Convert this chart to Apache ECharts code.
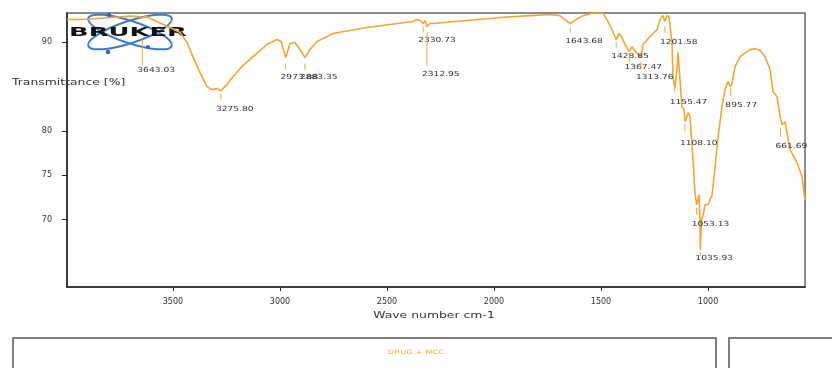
<!DOCTYPE html>
<html>
<head>
<meta charset="utf-8">
<script src="https://cdn.jsdelivr.net/npm/echarts@6/dist/echarts.min.js"></script>
<style>
  html, body { margin: 0; padding: 0; background: #fff; }
  #chart { width: 832px; height: 368px; }
</style>
</head>
<body>
<div id="chart"></div>
<script>
// IR spectrum, wave number (cm-1) against transmittance (%)
const wavenumber = [
  3995, 3900, 3841, 3760, 3701, 3660, 3645, 3630, 3622, 3575, 3514, 3467, 3434, 3407, 3374,
  3341, 3318, 3294, 3276, 3248, 3220, 3173, 3126, 3061, 3014, 2995, 2973, 2953, 2930, 2907,
  2883, 2860, 2827, 2752, 2673, 2593, 2486, 2379, 2360, 2346, 2331, 2322, 2313, 2299, 2285,
  2126, 1972, 1832, 1738, 1692, 1668, 1645, 1617, 1584, 1537, 1491, 1472, 1449, 1435, 1428,
  1416, 1402, 1388, 1368, 1355, 1336, 1314, 1304, 1271, 1238, 1220, 1210, 1202, 1192, 1182,
  1168, 1164, 1155, 1145, 1140, 1131, 1122, 1112, 1107, 1093, 1084, 1070, 1061, 1053, 1042,
  1037, 1036, 1030, 1023, 1014, 1000, 981, 967, 953, 935, 921, 907, 896, 888, 874,
  850, 804, 780, 757, 734, 710, 696, 678, 662, 654, 640, 617, 584, 561, 547
];
const transmittance = [
  92.56, 92.6, 92.7, 92.85, 92.95, 92.9, 92.75, 92.95, 92.9, 92.34, 91.66, 91.1, 89.97, 88.38, 86.6,
  85.0, 84.66, 84.77, 84.54, 85.22, 86.12, 87.37, 88.38, 89.74, 90.31, 90.08, 88.27, 89.85, 89.97, 89.18,
  88.27, 89.18, 90.08, 90.98, 91.32, 91.66, 92.0, 92.34, 92.56, 92.45, 92.11, 92.45, 91.77, 92.11, 92.11,
  92.45, 92.79, 93.0, 93.13, 93.0, 92.56, 92.11, 92.56, 93.0, 93.3, 93.3, 92.56, 91.44, 90.64, 90.31,
  90.98, 90.53, 89.74, 88.95, 89.51, 88.84, 88.27, 89.74, 90.64, 91.44, 92.79, 93.0, 92.34, 93.0, 92.9,
  89.74, 86.12, 84.88, 86.92, 88.84, 85.78, 82.73, 82.4, 81.04, 82.06, 81.6, 76.75, 73.02, 71.67, 72.79,
  69.4, 66.58, 70.0, 70.5, 71.67, 71.67, 72.79, 75.96, 79.34, 82.73, 84.66, 85.56, 85.0, 85.33, 87.25,
  88.38, 89.17, 89.29, 89.06, 88.38, 86.92, 84.43, 83.87, 81.5, 80.7, 81.04, 77.88, 76.41, 74.83, 72.2
];

// peak picks: position, marker start/end and label level (transmittance units)
const peakWn = [3643.03, 3275.80, 2973.88, 2883.35, 2330.73, 2312.95, 1643.68, 1428.85, 1367.47,
  1313.76, 1201.58, 1155.47, 1108.10, 1053.13, 1035.93, 895.77, 661.69];
const peakMarkTop = [90.31, 84.2, 87.59, 87.59, 91.77, 91.1, 91.66, 89.97, 88.61,
  87.82, 91.77, 85.22, 80.82, 71.33, 66.35, 84.88, 80.36];
const peakMarkBottom = [87.37, 83.53, 86.92, 86.92, 91.1, 87.37, 91.1, 89.4, 87.82,
  86.92, 91.1, 84.43, 79.91, 70.53, 65.9, 83.98, 79.34];
const peakLabelAt = [86.8, 82.4, 86.01, 86.01, 90.25, 86.35, 90.08, 88.38, 87.14,
  86.01, 89.97, 83.19, 78.67, 69.51, 65.67, 82.85, 78.33];

const xTicks = [3500, 3000, 2500, 2000, 1500, 1000];
const yTicks = [70, 75, 80, 90];

const LINE = '#f2a630';
const INK = '#333';
const FONT = 'DejaVu Sans';

const chart = echarts.init(document.getElementById('chart'));

const spectrum = wavenumber.map((w, i) => [w, transmittance[i]]);
const peaks = peakWn.map((w, i) => [w, peakMarkTop[i], peakMarkBottom[i], peakLabelAt[i]]);

function renderPeak(params, api) {
  const w = api.value(0);
  const a = api.coord([w, api.value(1)]);
  const b = api.coord([w, api.value(2)]);
  const t = api.coord([w, api.value(3)]);
  return {
    type: 'group',
    children: [
      {
        type: 'line',
        shape: { x1: a[0], y1: a[1], x2: b[0], y2: b[1] },
        style: { stroke: LINE, lineWidth: 1 }
      },
      {
        type: 'text',
        x: t[0] - 5,
        y: t[1],
        scaleX: 1.3,
        style: {
          text: peakWn[params.dataIndex].toFixed(2),
          x: 0, y: 0,
          fontSize: 7,
          fontFamily: FONT,
          fill: INK,
          align: 'left',
          verticalAlign: 'middle'
        }
      }
    ]
  };
}

const option = {
  backgroundColor: '#fff',
  animation: false,
  grid: {
    left: 67, right: 27, top: 13, bottom: 81,
    show: true,
    borderColor: '#666',
    borderWidth: 1.5
  },
  xAxis: {
    type: 'value',
    inverse: true,
    min: 547,
    max: 3995,
    splitLine: { show: false },
    axisLine: { lineStyle: { color: '#222', width: 1.5 } },
    axisTick: { customValues: xTicks, length: 4, lineStyle: { color: '#222' } },
    axisLabel: {
      customValues: xTicks, margin: 11, fontSize: 8, fontFamily: FONT, color: INK,
      formatter: (v) => String(v)
    }
  },
  yAxis: {
    type: 'value',
    min: 62.4,
    max: 93.3,
    splitLine: { show: false },
    axisLine: { show: true, lineStyle: { color: '#222', width: 1.5 } },
    axisTick: { show: true, customValues: yTicks, length: 5, lineStyle: { color: '#222' } },
    axisLabel: {
      customValues: yTicks, margin: 15, fontSize: 8, fontFamily: FONT, color: INK,
      formatter: (v) => String(v)
    }
  },
  series: [
    {
      type: 'line',
      data: spectrum,
      showSymbol: false,
      clip: true,
      lineStyle: { color: LINE, width: 1.6 },
      z: 2
    },
    {
      type: 'custom',
      data: peaks,
      renderItem: renderPeak,
      clip: false,
      z: 3
    }
  ],
  graphic: [
    // Bruker logo
    {
      type: 'group',
      z: 10,
      children: [
        {
          type: 'ellipse', x: 130, y: 32, rotation: 0.32,
          shape: { cx: 0, cy: 0, rx: 44, ry: 11 },
          style: { fill: null, stroke: '#3a7bd8', lineWidth: 2 }
        },
        {
          type: 'ellipse', x: 130, y: 32, rotation: -0.32,
          shape: { cx: 0, cy: 0, rx: 44, ry: 11 },
          style: { fill: null, stroke: '#3a7bd8', lineWidth: 2 }
        },
        { type: 'circle', shape: { cx: 109, cy: 15, r: 2.2 }, style: { fill: '#2a62c0' } },
        { type: 'circle', shape: { cx: 108, cy: 52, r: 2.2 }, style: { fill: '#2a62c0' } },
        { type: 'circle', shape: { cx: 148, cy: 47, r: 2 }, style: { fill: '#2a62c0' } },
        {
          type: 'text', x: 128, y: 33, scaleX: 2.15,
          style: {
            text: 'BRUKER', x: 0, y: 0, fontSize: 12, fontWeight: 'bold', fontFamily: FONT,
            fill: '#111', align: 'center', verticalAlign: 'middle'
          }
        }
      ]
    },
    {
      type: 'text', x: 12, y: 83, scaleX: 1.55, z: 10,
      style: {
        text: 'Transmittance [%]', x: 0, y: 0, fontSize: 8, fontFamily: FONT,
        fill: INK, align: 'left', verticalAlign: 'middle'
      }
    },
    {
      type: 'text', x: 434, y: 316, scaleX: 1.55,
      style: {
        text: 'Wave number cm-1', x: 0, y: 0, fontSize: 8, fontFamily: FONT,
        fill: INK, align: 'center', verticalAlign: 'middle'
      }
    },
    // panels of the next figure, cut off at the bottom
    {
      type: 'rect', shape: { x: 13, y: 338, width: 703, height: 80 },
      style: { fill: null, stroke: '#555', lineWidth: 1.5 }
    },
    {
      type: 'rect', shape: { x: 729, y: 338, width: 200, height: 80 },
      style: { fill: null, stroke: '#555', lineWidth: 1.5 }
    },
    {
      type: 'text', x: 416, y: 352, scaleX: 1.4,
      style: {
        text: 'DRUG + MCC', x: 0, y: 0, fontSize: 6, fontFamily: FONT,
        fill: '#f0b030', align: 'center', verticalAlign: 'middle'
      }
    }
  ]
};

chart.setOption(option);
</script>
</body>
</html>
